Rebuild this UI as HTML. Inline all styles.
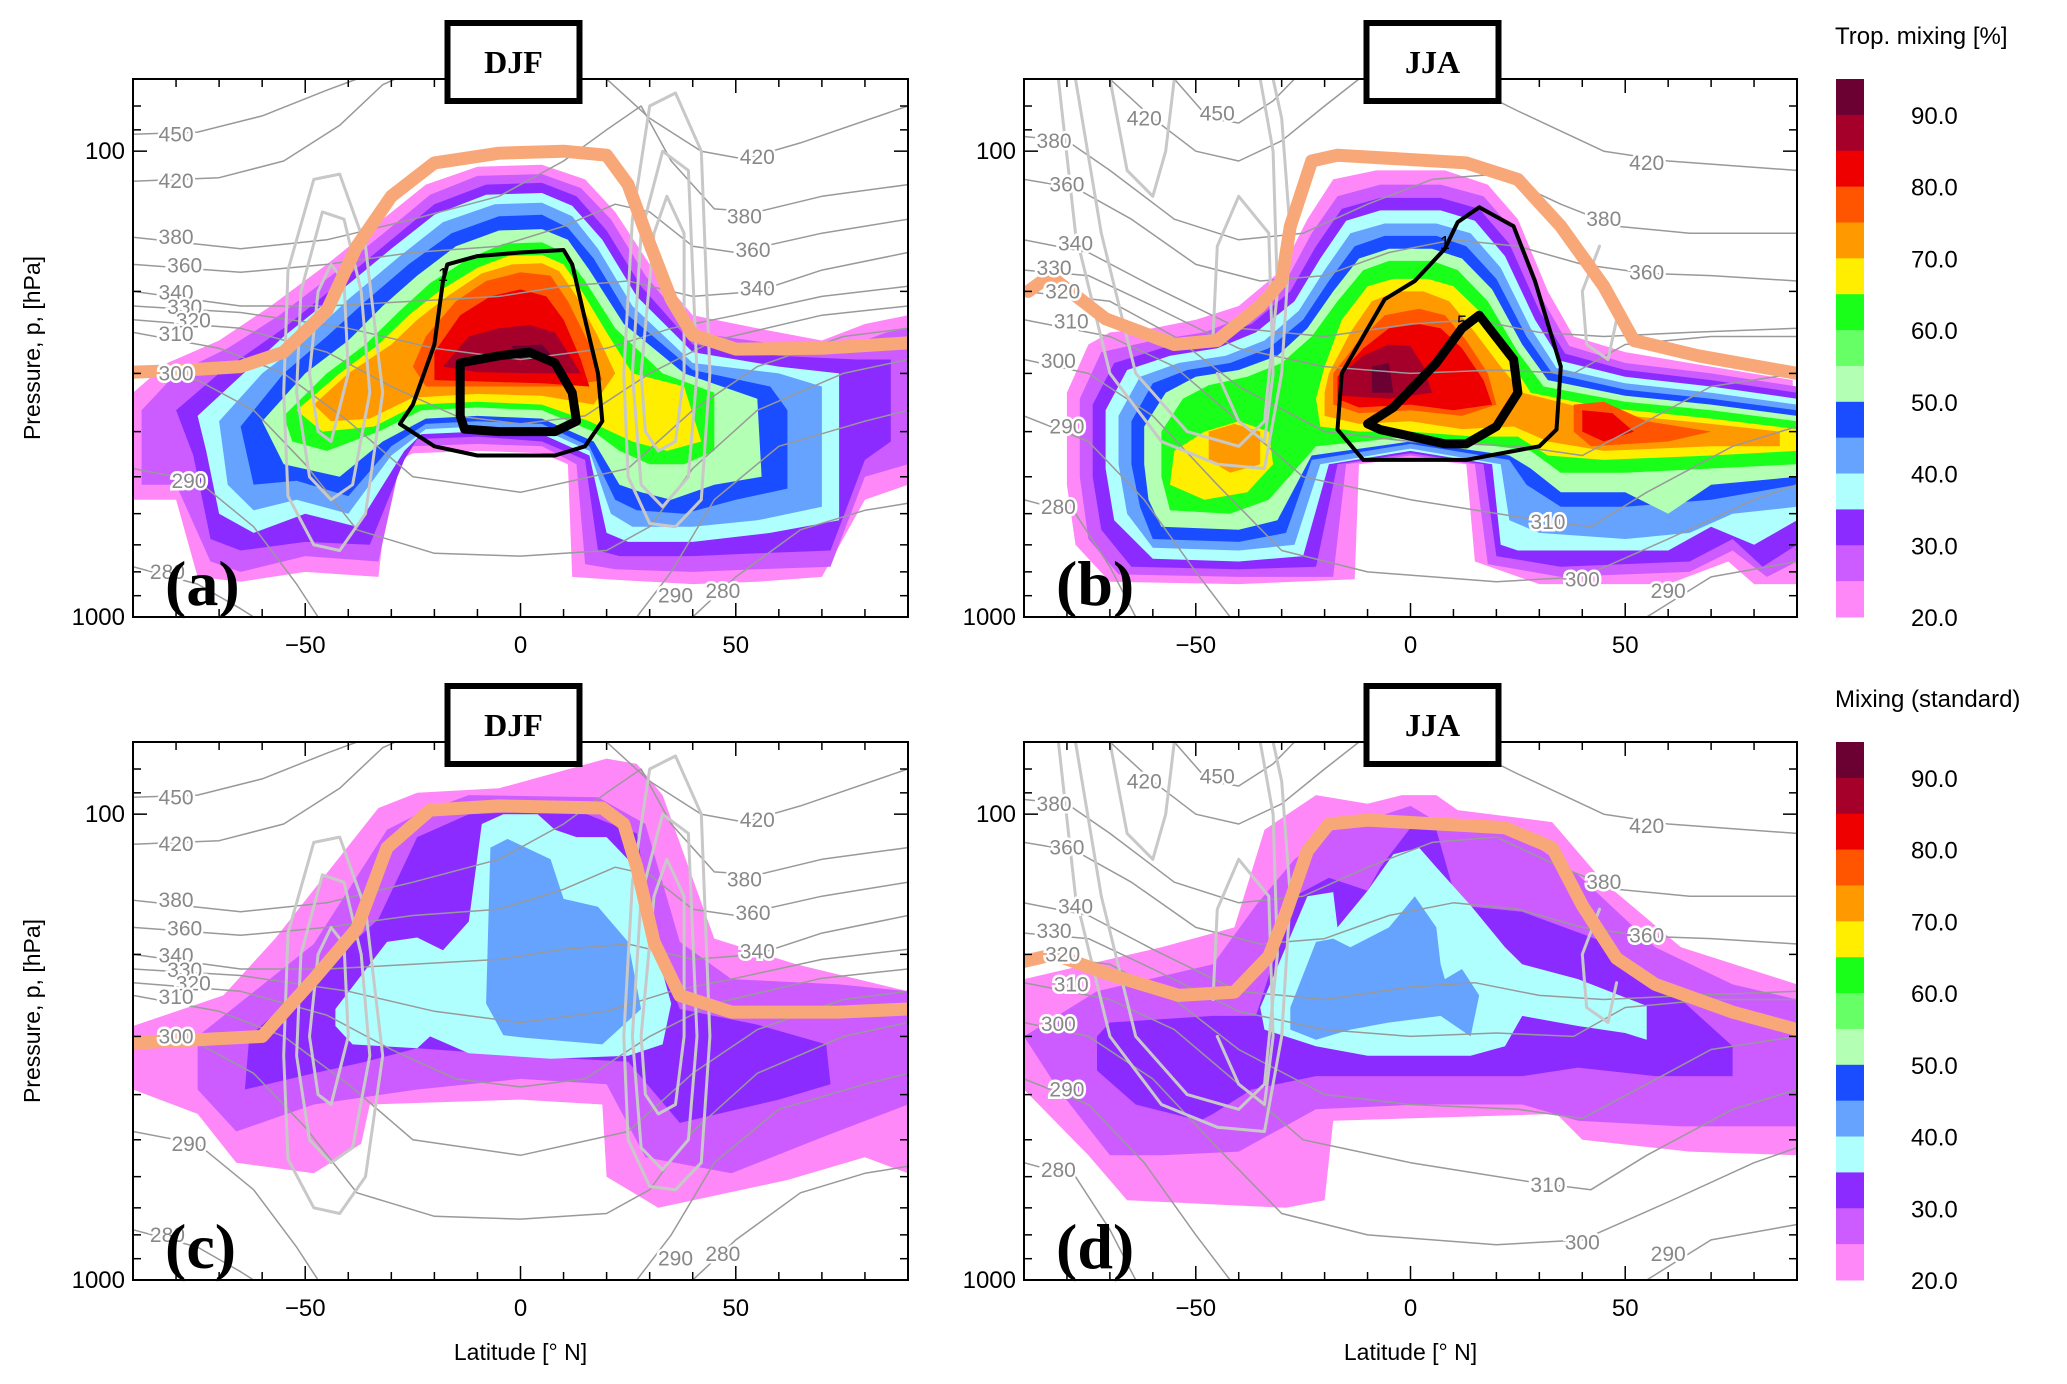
<!DOCTYPE html>
<html><head><meta charset="utf-8"><style>
html,body{margin:0;padding:0;background:#fff;}
svg{display:block;font-family:"Liberation Sans",sans-serif;}
</style></head><body>
<svg id="fig" width="2067" height="1384" viewBox="0 0 2067 1384" xmlns="http://www.w3.org/2000/svg"></svg>
<script>
// ---------- data ----------
const levelColors = {20:"#ff88f8",25:"#cc5cff",30:"#8c2bff",35:"#b0ffff",40:"#66a3ff",45:"#1a4dff",50:"#b3ffb3",55:"#66ff66",60:"#19ff19",65:"#ffee00",70:"#ff9900",75:"#ff5500",80:"#ee0000",85:"#a5002a",90:"#6b0033"};
const cbarColors = ["#6b0033","#a5002a","#ee0000","#ff5500","#ff9900","#ffee00","#19ff19","#66ff66","#b3ffb3","#1a4dff","#66a3ff","#b0ffff","#8c2bff","#cc5cff","#ff88f8"];
const cbarLabels = ["90.0","80.0","70.0","60.0","50.0","40.0","30.0","20.0"];
const xTicks = [-50,0,50];
const xMinor = [-80,-70,-60,-50,-40,-30,-20,-10,0,10,20,30,40,50,60,70,80];
const yMinor = [70,80,90,100,200,300,400,500,600,700,800,900,1000];
const yTicks = [100,1000];

const aLevels = [20,25,30,35,40,45,50,60,65,70,75,80,85,90];
const aPolys = [
[[-90,330],[-82,285],[-70,255],[-58,215],[-45,175],[-32,140],[-22,118],[-10,108],[5,107],[15,115],[22,135],[30,175],[40,225],[55,240],[70,255],[80,235],[90,225],[90,520],[80,560],[70,820],[55,840],[40,850],[20,830],[12,820],[11,470],[5,445],[-10,440],[-25,445],[-30,470],[-33,820],[-50,800],[-65,840],[-75,820],[-80,560],[-90,560]],
[[-88,360],[-80,300],[-68,265],[-56,225],[-44,185],[-31,148],[-21,124],[-10,113],[5,112],[14,120],[21,140],[29,185],[40,245],[60,260],[75,265],[85,245],[90,240],[90,470],[80,500],[72,780],[55,790],[40,800],[22,790],[15,770],[13,470],[5,430],[-10,425],[-25,430],[-28,470],[-33,760],[-50,740],[-65,800],[-72,760],[-80,520],[-88,520]],
[[-80,360],[-70,300],[-55,240],[-43,195],[-30,155],[-20,130],[-8,118],[5,117],[13,125],[20,148],[28,195],[40,260],[60,275],[78,280],[86,280],[86,420],[80,460],[72,720],[55,730],[40,740],[23,740],[18,720],[15,460],[5,420],[-10,410],[-24,415],[-27,460],[-35,700],[-50,690],[-65,720],[-72,680],[-76,450]],
[[-75,370],[-66,310],[-55,250],[-42,200],[-30,162],[-20,137],[-8,124],[5,123],[12,131],[19,155],[27,205],[40,270],[60,290],[74,300],[74,620],[58,660],[40,690],[25,690],[20,660],[16,450],[5,405],[-10,400],[-23,405],[-27,440],[-38,640],[-50,600],[-62,660],[-70,600],[-73,440]],
[[-70,380],[-60,300],[-50,255],[-40,208],[-28,168],[-18,142],[-6,130],[5,129],[12,138],[18,162],[26,215],[40,285],[60,300],[70,320],[70,580],[55,620],[40,640],[26,640],[21,600],[16,440],[5,395],[-10,390],[-22,395],[-30,450],[-40,600],[-52,560],[-62,590],[-68,520]],
[[-65,390],[-55,300],[-45,250],[-36,210],[-26,175],[-16,150],[-5,138],[5,137],[11,146],[17,170],[25,225],[40,295],[58,320],[62,360],[62,530],[50,560],[38,600],[27,590],[22,560],[16,430],[5,385],[-10,380],[-22,385],[-30,430],[-40,550],[-52,510],[-62,520]],
[[-60,380],[-50,300],[-40,255],[-32,215],[-24,185],[-15,160],[-5,148],[5,147],[11,155],[16,180],[24,235],[38,300],[55,340],[56,500],[45,520],[35,560],[28,540],[23,520],[17,420],[5,375],[-10,370],[-22,375],[-32,420],[-42,500],[-55,470]],
[[-55,370],[-45,300],[-36,260],[-28,220],[-21,192],[-12,170],[-4,158],[5,157],[10,165],[15,190],[22,240],[33,300],[45,330],[45,440],[38,470],[30,470],[23,440],[17,400],[5,360],[-10,355],[-23,360],[-33,400],[-45,440],[-53,420]],
[[-52,360],[-42,300],[-33,260],[-26,225],[-19,200],[-10,178],[-3,168],[5,167],[10,175],[14,198],[20,245],[26,300],[38,320],[42,420],[34,440],[26,420],[21,400],[16,380],[5,350],[-10,345],[-24,350],[-34,390],[-46,400]],
[[-48,350],[-40,300],[-30,260],[-24,230],[-17,205],[-9,183],[-2,175],[5,174],[9,181],[13,205],[18,250],[22,300],[17,350],[5,335],[-10,332],[-25,338],[-35,375],[-44,380]],
[[-22,250],[-15,210],[-8,190],[0,182],[7,185],[11,210],[16,260],[19,310],[10,320],[-10,320],[-22,320],[-25,290]],
[[-20,270],[-14,225],[-7,205],[0,198],[6,205],[10,230],[14,280],[16,320],[5,315],[-10,312],[-20,310]],
[[-18,290],[-12,250],[-5,240],[2,236],[8,245],[12,280],[14,300],[5,300],[-10,298]],
[[-2,262],[5,260],[8,280],[-1,280]]
];
const aTropo = [[-90,298],[-80,296],[-65,290],[-55,270],[-45,220],[-38,160],[-30,125],[-20,106],[-5,101],[10,100],[20,102],[25,118],[30,158],[35,208],[40,248],[50,266],[70,265],[90,258]];
const aBlack1 = [[-17,175],[-10,168],[0,165],[10,163],[12,175],[15,230],[18,300],[19,380],[15,430],[8,450],[-10,450],[-20,430],[-28,385],[-25,350],[-20,260],[-18,190]];
const aBlack5 = [[-14,285],[-5,275],[2,270],[8,285],[12,330],[13,380],[8,400],[-5,400],[-13,395],[-14,370],[-14,320]];

const bLevels = [20,25,30,35,40,45,50,60,65,65,70,70,75,75,80,80,85,90];
const bPolys = [
[[-80,330],[-75,260],[-70,245],[-60,240],[-50,230],[-40,215],[-30,180],[-24,140],[-18,115],[-8,110],[8,110],[18,118],[25,140],[32,200],[38,250],[50,270],[70,290],[89,310],[90,850],[80,850],[74,760],[60,850],[30,850],[15,760],[13,470],[0,455],[-12,470],[-13,830],[-40,850],[-70,840],[-78,700],[-80,520]],
[[-77,340],[-72,270],[-60,255],[-48,245],[-38,225],[-29,190],[-23,150],[-17,125],[-7,118],[7,118],[17,125],[24,148],[31,210],[37,262],[50,285],[70,300],[90,320],[90,760],[83,820],[75,720],[65,800],[35,820],[18,770],[15,470],[0,450],[-15,470],[-18,820],[-40,820],[-68,810],[-75,680],[-77,500]],
[[-74,350],[-69,285],[-58,265],[-47,255],[-37,235],[-28,200],[-22,160],[-16,133],[-7,126],[7,126],[16,133],[23,158],[30,220],[36,272],[50,295],[70,310],[90,330],[90,700],[82,780],[75,680],[65,760],[35,780],[20,740],[17,470],[0,445],[-17,470],[-22,780],[-40,790],[-65,780],[-72,650],[-74,500]],
[[-71,360],[-66,295],[-56,275],[-45,265],[-36,245],[-27,210],[-21,170],[-15,141],[-7,134],[7,134],[15,141],[22,168],[29,230],[35,282],[50,305],[70,320],[90,340],[90,620],[80,700],[70,640],[60,720],[40,720],[25,720],[21,700],[19,470],[0,440],[-19,470],[-25,740],[-40,760],[-60,750],[-69,620],[-71,480]],
[[-68,370],[-63,305],[-54,285],[-43,275],[-34,255],[-26,220],[-20,180],[-14,150],[-6,143],[6,143],[14,150],[21,178],[28,240],[34,292],[50,315],[70,330],[90,350],[90,580],[75,600],[65,660],[50,680],[30,660],[23,620],[21,470],[0,435],[-21,470],[-27,700],[-40,720],[-60,710],[-66,600],[-68,470]],
[[-65,380],[-60,315],[-52,295],[-42,285],[-33,265],[-25,230],[-19,190],[-13,160],[-6,152],[6,152],[13,160],[20,188],[27,250],[33,300],[50,325],[70,340],[90,360],[90,520],[70,560],[50,580],[35,580],[27,520],[23,460],[0,425],[-23,460],[-29,660],[-40,690],[-60,680],[-63,580],[-65,470]],
[[-62,390],[-57,330],[-50,305],[-40,295],[-31,275],[-24,240],[-18,200],[-12,170],[-5,162],[5,162],[12,170],[19,198],[26,260],[32,310],[50,335],[70,350],[90,370],[90,500],[70,520],[60,600],[50,540],[35,540],[28,480],[23,450],[0,420],[-23,450],[-31,620],[-40,650],[-58,640],[-61,560],[-62,470]],
[[-58,400],[-53,340],[-47,318],[-38,305],[-30,285],[-23,250],[-17,210],[-11,180],[-5,172],[5,172],[11,180],[18,210],[25,270],[31,320],[50,345],[70,360],[90,380],[90,470],[70,480],[50,490],[35,490],[28,440],[20,430],[0,410],[-22,430],[-33,560],[-42,600],[-56,590],[-58,500]],
[[-20,290],[-16,230],[-10,195],[-4,188],[4,188],[10,195],[17,225],[23,280],[28,330],[45,355],[70,375],[90,395],[90,440],[70,450],[45,460],[32,450],[25,410],[15,410],[0,400],[-12,400],[-21,390],[-22,340]],
[[-55,440],[-48,400],[-40,380],[-33,400],[-32,470],[-38,540],[-48,560],[-56,520]],
[[-19,300],[-14,245],[-9,210],[-3,200],[3,200],[9,210],[15,245],[21,290],[26,330],[45,365],[70,385],[86,400],[86,430],[70,430],[45,440],[32,420],[24,390],[12,395],[0,380],[-12,385],[-20,370],[-20,330]],
[[-47,400],[-41,385],[-35,400],[-35,470],[-42,490],[-47,460]],
[[-18,300],[-12,255],[-6,225],[2,218],[8,225],[13,255],[18,300],[20,350],[12,370],[0,360],[-12,365],[-18,350]],
[[38,350],[45,345],[55,380],[70,400],[60,420],[42,430],[38,400]],
[[-17,305],[-11,265],[-5,240],[2,235],[7,240],[12,265],[17,310],[19,350],[10,360],[0,350],[-12,355],[-17,340]],
[[40,360],[47,365],[52,400],[45,420],[40,400]],
[[-16,300],[-11,275],[-5,260],[0,262],[3,290],[5,330],[-5,340],[-16,335]],
[[-9,290],[-5,285],[-4,330],[-9,330]]
];
const bTropo = [[-89,200],[-84,185],[-71,229],[-55,260],[-45,255],[-35,215],[-30,190],[-28,145],[-23,105],[-17,102],[13,106],[25,115],[35,145],[45,195],[52,255],[67,275],[90,300]];
const bBlack1 = [[16,132],[24,145],[29,190],[35,290],[34,396],[30,430],[13,460],[-11,460],[-17,396],[-16,300],[-6,208],[1,190],[8,162],[11,142]];
const bBlack5 = [[16,225],[24,280],[25,330],[20,390],[13,425],[8,425],[-7,396],[-10,385],[-4,355],[6,285],[12,240]];

const cLevels = [20,25,30,35,40];
const cPolys = [
[[-90,285],[-69,245],[-57,185],[-33,97],[-24,90],[-5,88],[20,76],[27,78],[33,91],[45,185],[64,210],[90,240],[90,590],[80,545],[62,610],[32,700],[20,600],[19,420],[0,410],[-35,420],[-37,510],[-48,590],[-66,560],[-75,440],[-90,390]],
[[-75,300],[-63,245],[-48,190],[-31,108],[-24,100],[-12,91],[18,92],[29,105],[37,188],[49,226],[74,232],[90,240],[90,420],[71,490],[49,590],[29,545],[20,380],[0,370],[-24,390],[-48,420],[-66,480],[-75,390]],
[[-64,390],[-63,300],[-48,226],[-33,168],[-24,112],[-12,100],[13,98],[20,104],[27,110],[31,185],[37,262],[55,283],[71,312],[72,380],[60,410],[37,460],[25,340],[0,330],[-24,318],[-36,340],[-48,360]],
[[-43,262],[-31,188],[-24,184],[-18,196],[-12,170],[-9,105],[-4,100],[4,100],[8,108],[13,112],[20,112],[26,128],[35,255],[33,312],[25,330],[7,335],[-12,326],[-21,300],[-24,318],[-39,312],[-43,285]],
[[-8,255],[-7,118],[-3,113],[7,125],[10,152],[18,158],[25,188],[28,262],[19,312],[1,302],[-4,298]]
];
const cTropo = [[-90,310],[-60,300],[-48,226],[-38,176],[-31,118],[-21,98],[-5,96],[19,97],[24,105],[27,130],[31,188],[37,245],[49,266],[74,266],[90,262]];

const dLevels = [20,25,30,35,40];
const dPolys = [
[[-90,226],[-58,193],[-41,175],[-34,108],[-22,91],[-10,95],[-2,91],[6,91],[11,98],[33,104],[45,140],[63,193],[90,232],[90,540],[65,530],[40,500],[34,440],[-18,455],[-20,674],[-29,700],[-66,674],[-75,540],[-90,390]],
[[-90,300],[-73,240],[-46,210],[-36,157],[-27,125],[-18,108],[-10,103],[0,96],[7,105],[26,112],[39,135],[57,193],[75,232],[90,250],[90,468],[63,468],[39,455],[26,420],[2,420],[-22,430],[-40,530],[-58,540],[-70,540],[-82,390]],
[[-73,300],[-70,280],[-46,271],[-36,271],[-27,150],[-19,137],[-10,146],[-7,130],[0,107],[6,108],[11,157],[26,162],[45,188],[63,250],[75,315],[75,365],[57,365],[39,350],[26,365],[2,365],[-22,365],[-37,390],[-46,440],[-49,455],[-64,420],[-73,355]],
[[-35,260],[-24,150],[-18,147],[-17,175],[-10,146],[-4,122],[2,118],[6,130],[14,157],[22,193],[26,210],[39,226],[55,258],[55,305],[50,295],[39,285],[26,271],[22,315],[14,330],[-10,330],[-22,315],[-34,290]],
[[-28,260],[-22,188],[-18,185],[-14,193],[-5,175],[1,150],[6,175],[7,210],[8,226],[12,215],[16,245],[14,300],[7,271],[-5,280],[-14,290],[-22,305],[-28,290]]
];
const dTropo = [[-90,207],[-83,200],[-70,221],[-54,245],[-41,241],[-33,202],[-29,163],[-24,120],[-19,105],[-10,103],[22,107],[33,118],[40,157],[48,204],[57,232],[75,266],[90,290]];

// potential temperature isolines
const djfTheta = [
[[-90,92],[-75,91],[-60,84],[-45,74],[-38,70]],
[[-90,116],[-70,114],[-55,105],[-42,88],[-32,72],[-29,70]],
[[20,70],[30,85],[42,100],[52,104],[65,96],[90,80]],
[[-90,153],[-65,162],[-45,155],[-25,140],[-5,125],[10,105],[20,90],[28,80],[35,105],[45,133],[55,135],[70,125],[90,118]],
[[-90,175],[-65,182],[-45,175],[-25,165],[-5,160],[10,145],[22,130],[30,135],[40,160],[50,165],[70,150],[90,140]],
[[-90,200],[-65,215],[-45,215],[-25,210],[-5,205],[10,195],[25,190],[40,205],[55,200],[70,180],[90,165]],
[[-90,215],[-65,222],[-40,240],[-20,265],[0,280],[20,265],[35,240],[50,225],[70,205],[90,195]],
[[-90,230],[-65,240],[-45,270],[-30,320],[-15,370],[0,385],[15,370],[30,300],[45,255],[70,225],[90,215]],
[[-90,245],[-70,265],[-55,300],[-40,380],[-25,500],[0,540],[25,480],[40,360],[55,290],[75,250],[90,240]],
[[-90,300],[-75,310],[-62,360],[-50,470],[-38,650],[-20,730],[0,740],[20,720],[30,640],[40,480],[55,360],[75,300],[90,280]],
[[-90,480],[-75,510],[-62,640],[-52,850],[-47,1000]],
[[27,1000],[35,800],[45,560],[60,430],[80,380],[90,360]],
[[-90,780],[-75,850],[-65,960],[-62,1000]],
[[40,1000],[50,820],[65,650],[80,590],[90,570]]
];
const djfLabels = [["450",-80,92],["420",-80,116],["380",-80,153],["360",-78,176],["340",-80,201],["330",-78,216],["320",-76,231],["310",-80,247],["300",-80,300],["290",-77,510],["280",-82,800],["420",55,103],["380",52,138],["360",54,163],["340",55,197],["290",36,900],["280",47,880]];
const jjaTheta = [
[[-55,70],[-47,85],[-40,87],[-32,78],[-27,70]],
[[-70,70],[-60,85],[-50,100],[-40,105],[-30,95],[-20,80],[-12,70]],
[[10,70],[25,82],[45,100],[60,105],[90,110]],
[[-90,93],[-80,95],[-70,110],[-55,140],[-40,155],[-25,150],[-10,130],[5,115],[20,112],[35,130],[48,145],[65,150],[90,150]],
[[-90,115],[-78,120],[-65,140],[-50,175],[-35,190],[-20,185],[-5,165],[10,155],[25,160],[40,175],[55,183],[70,185],[90,190]],
[[-90,155],[-75,165],[-60,195],[-40,240],[-20,250],[0,235],[15,230],[30,245],[45,250],[65,245],[90,240]],
[[-90,180],[-75,185],[-60,215],[-40,265],[-20,290],[0,300],[20,295],[38,300],[50,260],[70,250],[90,250]],
[[-90,200],[-70,210],[-55,250],[-40,320],[-20,400],[0,420],[25,430],[40,450],[55,380],[70,320],[90,300]],
[[-90,230],[-70,250],[-55,290],[-40,380],[-25,500],[0,560],[30,620],[42,640],[55,540],[75,430],[90,390]],
[[-90,280],[-75,300],[-60,370],[-45,520],[-30,720],[-10,800],[20,840],[40,820],[60,680],[80,560],[90,520]],
[[-90,370],[-75,420],[-62,560],[-50,800],[-42,1000]],
[[55,1000],[70,820],[90,760]],
[[-90,560],[-78,600],[-70,780],[-64,1000]]
];
const jjaLabels = [["380",-83,95],["360",-80,118],["340",-78,158],["330",-83,178],["320",-81,200],["310",-79,232],["300",-82,282],["290",-80,390],["280",-82,580],["450",-45,83],["420",-62,85],["420",55,106],["380",45,140],["360",55,182],["310",32,625],["300",40,830],["290",60,880]];
// jet (zonal wind) isotachs
const djfJets = [
[[-55,330],[-54,180],[-48,115],[-42,112],[-36,160],[-32,330],[-36,600],[-42,720],[-48,700],[-54,550]],
[[-52,330],[-51,200],[-46,135],[-41,140],[-37,200],[-35,330],[-39,520],[-44,560],[-49,500]],
[[-49,300],[-47,200],[-44,175],[-41,190],[-40,300],[-44,420],[-47,400]],
[[24,300],[26,140],[30,80],[36,75],[42,100],[44,300],[42,560],[36,640],[30,630],[25,500]],
[[26,300],[28,150],[33,100],[39,110],[41,300],[39,500],[33,580],[28,520]],
[[28,300],[31,150],[34,125],[38,150],[38,300],[36,420],[32,440],[29,400]]
];
const jjaJets = [
[[-82,70],[-78,150],[-70,300],[-58,420],[-45,470],[-34,480],[-30,300],[-28,150],[-30,85],[-32,70]],
[[-78,70],[-72,150],[-64,300],[-52,400],[-40,430],[-34,380],[-31,200],[-32,100],[-35,70]],
[[-70,70],[-66,110],[-60,125],[-57,100],[-55,70]],
[[-46,250],[-45,160],[-40,125],[-33,150],[-32,300],[-34,420],[-40,380],[-45,300]],
[[44,160],[40,200],[41,260],[46,280],[48,230]]
];

// ---------- rendering ----------
const NS="http://www.w3.org/2000/svg";
const svg=document.getElementById('fig');
function el(tag,attrs,parent){const e=document.createElementNS(NS,tag);for(const k in attrs)e.setAttribute(k,attrs[k]);(parent||svg).appendChild(e);return e;}

function makePanel(id,x0,x1,y0,y1){
  const P={x0,x1,y0,y1};
  P.X=lat=>x0+(lat+90)/180*(x1-x0);
  P.Y=p=>y0+(y1-y0)*Math.log10(p/70)/Math.log10(1000/70);
  const cp=el('clipPath',{id:'clip-'+id});
  el('rect',{x:x0,y:y0,width:x1-x0,height:y1-y0},cp);
  P.g=el('g',{'clip-path':'url(#clip-'+id+')'});
  
  
  return P;
}
function pathD(P,pts,close){return pts.map((q,i)=>(i?'L':'M')+P.X(q[0]).toFixed(1)+' '+P.Y(q[1]).toFixed(1)).join(' ')+(close?' Z':'');}

function drawFills(P,levels,polys,name){
  polys.forEach((pts,i)=>{
    const e=el('path',{d:pathD(P,pts,true),fill:levelColors[levels[i]],stroke:'none'},P.g);
    
    
  });
}
function drawLines(P,lines,stroke,w,name,close){
  lines.forEach(pts=>{
    const e=el('path',{d:pathD(P,pts,close),fill:'none',stroke:stroke,'stroke-width':w,'stroke-linejoin':'round','stroke-linecap':'round'},P.g);
    
    
  });
}
function drawLabels(P,labels){
  labels.forEach(l=>{
    const t=el('text',{x:P.X(l[1]),y:P.Y(l[2])+7,'font-size':21,fill:'#888','text-anchor':'middle',stroke:'#fff','stroke-width':5,'paint-order':'stroke'},P.g);
    t.textContent=l[0];
    
    
  });
}
function drawAxes(P,id,letter,season,xlabel,boxOff){
  const fr=el('rect',{x:P.x0,y:P.y0,width:P.x1-P.x0,height:P.y1-P.y0,fill:'none',stroke:'#000','stroke-width':2});
  
  
  xMinor.forEach(v=>{const L=xTicks.includes(v)?14:8;const x=P.X(v);
    el('line',{x1:x,x2:x,y1:P.y1,y2:P.y1-L,stroke:'#000','stroke-width':1.5});
    el('line',{x1:x,x2:x,y1:P.y0,y2:P.y0+L,stroke:'#000','stroke-width':1.5});});
  yMinor.forEach(v=>{const L=yTicks.includes(v)?14:8;const y=P.Y(v);
    el('line',{x1:P.x0,x2:P.x0+L,y1:y,y2:y,stroke:'#000','stroke-width':1.5});
    el('line',{x1:P.x1,x2:P.x1-L,y1:y,y2:y,stroke:'#000','stroke-width':1.5});});
  xTicks.forEach(v=>{const t=el('text',{x:P.X(v),y:P.y1+36,'font-size':24,'text-anchor':'middle'});t.textContent=(v<0?'\u2212':'')+Math.abs(v);
    });
  yTicks.forEach(v=>{const t=el('text',{x:P.x0-8,y:P.Y(v)+8,'font-size':24,'text-anchor':'end'});t.textContent=v;
    });
  const lt=el('text',{x:P.x0+32,y:P.y1-12,'font-size':64,'font-weight':'bold','font-family':'Liberation Serif, serif'});lt.textContent='('+letter+')';
  
  const cx=P.X(0)+boxOff;
  const bx=el('rect',{x:cx-66,y:P.y0-56,width:132,height:78,fill:'#fff',stroke:'#000','stroke-width':6});
  
  const st=el('text',{x:cx,y:P.y0-6,'font-size':32,'font-weight':'bold','text-anchor':'middle','font-family':'Liberation Serif, serif'});st.textContent=season;
  
  if(P.x0<500){const yl=el('text',{x:0,y:0,'font-size':23,'text-anchor':'middle',transform:'translate(40,'+((P.y0+P.y1)/2)+') rotate(-90)'});yl.textContent='Pressure, p, [hPa]';
    }
  if(xlabel){const xl=el('text',{x:(P.x0+P.x1)/2,y:P.y1+80,'font-size':23,'text-anchor':'middle'});xl.textContent='Latitude [\u00b0 N]';
    }
}
function drawBlack(P,pts,w,lab,li){
  const e=el('path',{d:pathD(P,pts,true),fill:'none',stroke:'#000','stroke-width':w,'stroke-linejoin':'round'},P.g);
  
  const q=pts[li];const t=el('text',{x:P.X(q[0]),y:P.Y(q[1]),'font-size':18,'text-anchor':'middle',fill:'#000'},P.g);t.textContent=lab;
  
}
function drawTropo(P,pts){
  const e=el('path',{d:pathD(P,pts,false),fill:'none',stroke:'#f8a878','stroke-width':13,'stroke-linejoin':'round','stroke-linecap':'round'},P.g);
  
}
function drawCbar(y0,y1,title,ty){
  const x=1836,w=28,h=(y1-y0)/cbarColors.length;
  cbarColors.forEach((c,i)=>{const r=el('rect',{x:x,y:y0+i*h,width:w,height:h+0.5,fill:c});
    });
  cbarLabels.forEach((s,i)=>{const t=el('text',{x:1911,y:y0+(2*i+1)*h+9,'font-size':24});t.textContent=s;
    });
  const t=el('text',{x:1835,y:ty,'font-size':24});t.textContent=title;
  
}

const A=makePanel('a',133,908,79,617);
drawFills(A,aLevels,aPolys,'mixing-a');
drawLines(A,djfTheta,'#999',1.5,'theta-isoline',false);
drawLines(A,djfJets,'#c8c8c8',3,'jet-isotach',true);
drawTropo(A,aTropo);
drawBlack(A,aBlack1,4,'1',15);
drawBlack(A,aBlack5,9,'5',10);
drawLabels(A,djfLabels);
drawAxes(A,'a','a','DJF',false,-7);

const B=makePanel('b',1024,1797,79,617);
drawFills(B,bLevels,bPolys,'mixing-b');
drawLines(B,jjaTheta,'#999',1.5,'theta-isoline',false);
drawLines(B,jjaJets,'#c8c8c8',3,'jet-isotach',false);
drawTropo(B,bTropo);
drawBlack(B,bBlack1,4,'1',12);
drawBlack(B,bBlack5,9,'5',10);
drawLabels(B,jjaLabels);
drawAxes(B,'b','b','JJA',false,22);

const C=makePanel('c',133,908,742,1280);
drawFills(C,cLevels,cPolys,'mixing-c');
drawLines(C,djfTheta,'#999',1.5,'theta-isoline',false);
drawLines(C,djfJets,'#c8c8c8',3,'jet-isotach',true);
drawTropo(C,cTropo);
drawLabels(C,djfLabels);
drawAxes(C,'c','c','DJF',true,-7);

const D=makePanel('d',1024,1797,742,1280);
drawFills(D,dLevels,dPolys,'mixing-d');
drawLines(D,jjaTheta,'#999',1.5,'theta-isoline',false);
drawLines(D,jjaJets,'#c8c8c8',3,'jet-isotach',false);
drawTropo(D,dTropo);
drawLabels(D,jjaLabels);
drawAxes(D,'d','d','JJA',true,22);

drawCbar(79,617,'Trop. mixing [%]',44);
drawCbar(742,1280,'Mixing (standard)',707);
</script>
</body></html>
